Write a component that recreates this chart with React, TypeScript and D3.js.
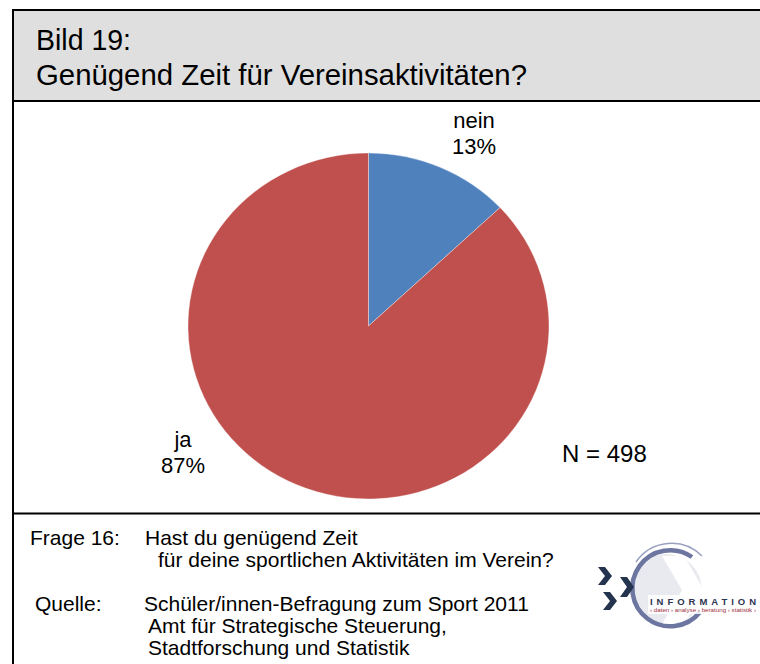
import React from "react";
import * as d3 from "d3";

const categories = ["nein", "ja"];
const values = [13, 87];
const colors = ["#4F81BD", "#C0504D"];
const titleLines = ["Bild 19:", "Genügend Zeit für Vereinsaktivitäten?"];
const sampleNote = "N = 498";
const questionLabel = "Frage 16:";
const questionLines = ["Hast du genügend Zeit", "für deine sportlichen Aktivitäten im Verein?"];
const sourceLabel = "Quelle:";
const sourceLines = [
  "Schüler/innen-Befragung zum Sport 2011",
  "Amt für Strategische Steuerung,",
  "Stadtforschung und Statistik",
];

const W = 760;
const H = 664;
const FONT = "'Liberation Sans', Arial, Helvetica, sans-serif";

// layout
const cx = 368.5;
const cy = 326;
const rx = 180.5;
const ry = 173;
const labelPos: Record<string, [number, number]> = {
  nein: [474, 128],
  ja: [183, 447],
};

export default function App() {
  const pie = d3
    .pie<number>()
    .sort(null)
    .value((d) => d)
    .startAngle(0)
    .endAngle(2 * Math.PI);
  const arcs = pie(values);
  const arc = d3.arc<d3.PieArcDatum<number>>().innerRadius(0).outerRadius(rx);
  const total = d3.sum(values);

  return (
    <svg
      width={W}
      height={H}
      style={{ position: "absolute", left: 0, top: 0, background: "#fff" }}
      fontFamily={FONT}
    >
      {/* header */}
      <rect x={13} y={10} width={780} height={91} fill="#dfdfdf" />
      <line x1={13} x2={W} y1={10} y2={10} stroke="#000" strokeWidth={2} />
      <line x1={13} x2={W} y1={101} y2={101} stroke="#000" strokeWidth={2} />
      <line x1={13} x2={W} y1={513.5} y2={513.5} stroke="#000" strokeWidth={2} />
      <line x1={13} x2={13} y1={9} y2={H} stroke="#000" strokeWidth={2} />
      <text x={36} y={50} fontSize={29.5} fill="#000" textLength={95} lengthAdjust="spacingAndGlyphs">
        {titleLines[0]}
      </text>
      <text x={36} y={85} fontSize={29.5} fill="#000" textLength={491} lengthAdjust="spacingAndGlyphs">
        {titleLines[1]}
      </text>

      {/* pie */}
      <g transform={`translate(${cx},${cy}) scale(1,${ry / rx})`}>
        {arcs.map((a, i) => (
          <path
            key={categories[i]}
            d={arc(a) || ""}
            fill={colors[i]}
            stroke="#ffffff"
            strokeOpacity={0.6}
            strokeWidth={0.6}
            vectorEffect="non-scaling-stroke"
          />
        ))}
      </g>
      {arcs.map((a, i) => {
        const [lx, ly] = labelPos[categories[i]];
        return (
          <text key={"l" + i} x={lx} y={ly} fontSize={22} textAnchor="middle" fill="#000">
            <tspan x={lx}>{categories[i]}</tspan>
            <tspan x={lx} dy={26}>
              {d3.format(".0%")(a.value / total)}
            </tspan>
          </text>
        );
      })}
      <text x={562} y={462} fontSize={24} fill="#000">
        {sampleNote}
      </text>

      {/* footer */}
      <g fontSize={21} fill="#000">
        <text x={30} y={545}>{questionLabel}</text>
        <text x={145} y={545}>{questionLines[0]}</text>
        <text x={158} y={567}>{questionLines[1]}</text>
        <text x={35} y={611}>{sourceLabel}</text>
        <text x={144} y={611}>{sourceLines[0]}</text>
        <text x={148} y={633}>{sourceLines[1]}</text>
        <text x={148} y={655}>{sourceLines[2]}</text>
      </g>

      {/* logo */}
      <g>
        <circle cx={666} cy={590} r={36} fill="#e9eaf0" />
        <path d="M 662 556 L 684 556 L 704 590 L 684 624 L 662 624 L 682 590 Z" fill="#ffffff" />
        <path
          d="M 692 557 A 38 38 0 1 0 700 612"
          fill="none"
          stroke="#6d76a0"
          strokeWidth={4.5}
        />
        <path
          d="M 636 562 A 43 43 0 0 1 702 556"
          fill="none"
          stroke="#9aa0c0"
          strokeWidth={1.5}
        />
        <path d="M 598 567 L 605 567 L 612 576 L 605 585 L 598 585 L 605 576 Z" fill="#24344f" />
        <path d="M 620 577 L 627 577 L 634 587 L 627 597 L 620 597 L 627 587 Z" fill="#24344f" />
        <path d="M 603 592 L 610 592 L 617 601 L 610 610 L 603 610 L 610 601 Z" fill="#24344f" />
        <rect x={648} y={595} width={112} height={19} fill="#ffffff" opacity={0.85} />
        <text x={650} y={605} fontSize={9.5} fontWeight="bold" textLength={106} lengthAdjust="spacing" fill="#2d3552">
          INFORMATION
        </text>
        <text x={650} y={612} fontSize={5} fill="#a03040" textLength={106} lengthAdjust="spacingAndGlyphs">
          › daten › analyse › beratung › statistik ›
        </text>
      </g>
    </svg>
  );
}
